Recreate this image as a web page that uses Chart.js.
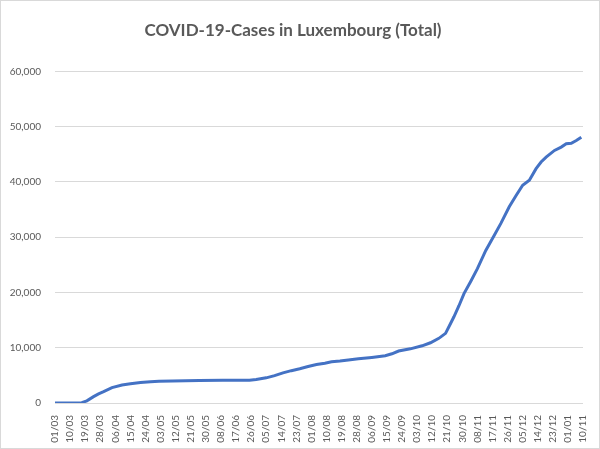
<!DOCTYPE html>
<html>
<head>
<meta charset="utf-8">
<script src="https://cdn.jsdelivr.net/npm/chart.js@4/dist/chart.umd.min.js"></script>
<style>
    html, body { margin: 0; padding: 0; background: #fff; }
    .chart-box {
        width: 600px;
        height: 449px;
        box-sizing: border-box;
        border: 1px solid #d9d9d9;
        position: relative;
    }
</style>
</head>
<body>
<div class="chart-box">
    <canvas id="lux-chart" width="598" height="447"></canvas>
</div>
<script>
// days after 01/03 and total cases
var days = [ 0, 9, 16, 19, 23, 26, 29, 34, 40, 45, 51, 57, 62, 70, 86, 100, 116, 120, 126, 131,
    136, 141, 146, 151, 156, 161, 165, 170, 175, 181, 189, 197, 201, 205, 212, 219, 224, 229,
    233, 235, 238, 241, 244, 248, 252, 257, 262, 266, 271, 275, 279, 283, 287, 290, 293, 298,
    302, 305, 308, 311, 314 ];
var cases = [ 0, 0, 50, 400, 1150, 1650, 2050, 2780, 3270, 3480, 3700, 3850, 3950, 4000, 4080,
    4100, 4120, 4250, 4550, 4950, 5450, 5850, 6200, 6600, 6960, 7200, 7450, 7600, 7800, 8000,
    8250, 8550, 8900, 9400, 9800, 10350, 10900, 11700, 12600, 13800, 15600, 17600, 19800,
    22000, 24300, 27600, 30300, 32500, 35500, 37500, 39400, 40300, 42400, 43600, 44500,
    45700, 46300, 46900, 47000, 47500, 48100 ];
var tickLabels = [ '01/03', '10/03', '19/03', '28/03', '06/04', '15/04', '24/04', '03/05',
    '12/05', '21/05', '30/05', '08/06', '17/06', '26/06', '05/07', '14/07', '23/07', '01/08',
    '10/08', '19/08', '28/08', '06/09', '15/09', '24/09', '03/10', '12/10', '21/10', '30/10',
    '08/11', '17/11', '26/11', '05/12', '14/12', '23/12', '01/01', '10/11' ];
var yTicks = [ 0, 10000, 20000, 30000, 40000, 50000, 60000 ];

( function () {
    'use strict';

    var textColor = '#595959';
    var lineColor = '#4472c4';
    var points = days.map( function ( d, i ) { return { x: d, y: cases[ i ] }; } );

    new Chart( document.getElementById( 'lux-chart' ), {
        type: 'line',
        data: {
            datasets: [ {
                label: 'Total',
                data: points,
                borderColor: lineColor,
                borderWidth: 3,
                pointRadius: 0,
                tension: 0,
                fill: false,
            } ],
        },
        options: {
            responsive: false,
            animation: false,
            layout: { padding: { left: 0, right: 14, top: 0, bottom: 0 } },
            plugins: {
                legend: { display: false },
                tooltip: { enabled: false },
                title: {
                    display: true,
                    text: 'COVID-19-Cases in Luxembourg (Total)',
                    color: textColor,
                    font: { family: 'Lato', size: 17, weight: 'bold' },
                    padding: { top: 19, bottom: 31 },
                },
            },
            scales: {
                x: {
                    type: 'linear',
                    min: 0,
                    max: ( tickLabels.length - 1 ) * 9,
                    grid: { display: false },
                    border: { display: false },
                    afterFit: function ( scale ) { scale.height = 45; },
                    ticks: {
                        stepSize: 9,
                        autoSkip: false,
                        minRotation: 90,
                        maxRotation: 90,
                        padding: 4,
                        color: textColor,
                        font: { family: 'Lato', size: 10 },
                        callback: function ( v ) { return tickLabels[ Math.round( v / 9 ) ]; },
                    },
                },
                y: {
                    min: yTicks[ 0 ],
                    max: yTicks[ yTicks.length - 1 ],
                    grid: { color: '#d9d9d9', drawTicks: false },
                    border: { display: false },
                    afterFit: function ( scale ) { scale.width = 54; },
                    afterBuildTicks: function ( scale ) {
                        scale.ticks = yTicks.map( function ( v ) { return { value: v }; } );
                    },
                    ticks: {
                        padding: 14,
                        color: textColor,
                        font: { family: 'Lato', size: 10 },
                        callback: function ( v ) { return Number( v ).toLocaleString( 'en-US' ); },
                    },
                },
            },
        },
    } );
} )();
</script>
</body>
</html>
